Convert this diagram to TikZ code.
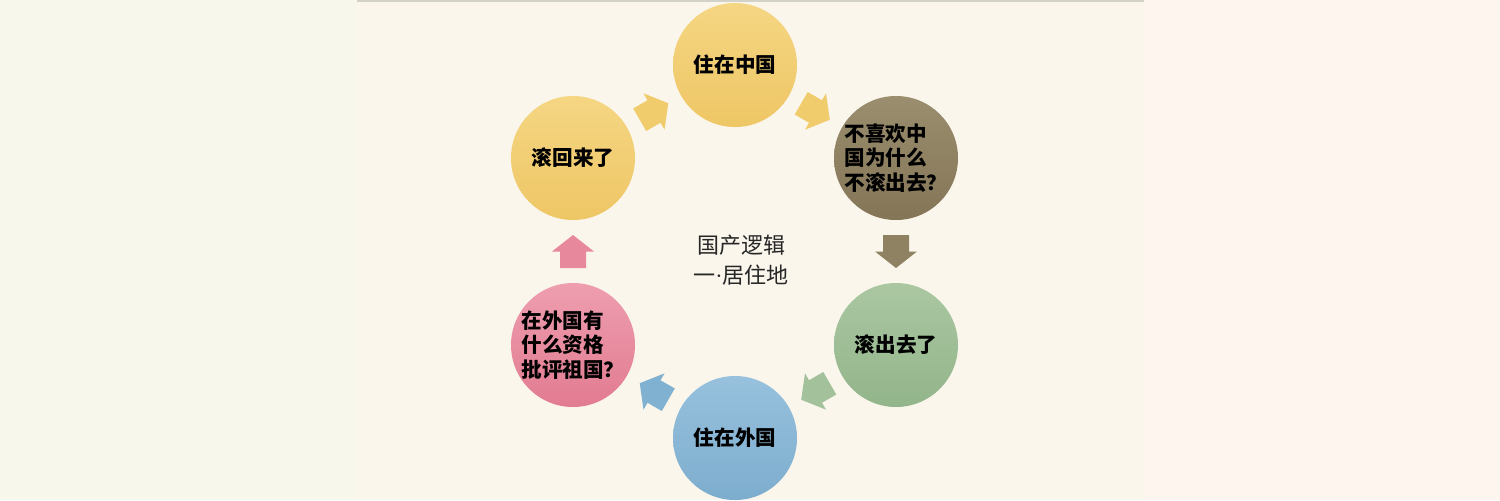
\documentclass[tikz,border=0pt]{standalone}
\usepackage{fontspec}
\setmainfont{Noto Sans CJK SC}
\newfontfamily\cjk{Noto Sans CJK SC}
\newfontfamily\latin{Liberation Serif}
\usetikzlibrary{calc}
\definecolor{bgleft}{HTML}{F7F7EB}
\definecolor{bgslide}{HTML}{FAF6EC}
\definecolor{bgright}{HTML}{FDF5EE}
\definecolor{topline}{HTML}{D3D2C8}
\definecolor{ytop}{HTML}{F5D683}
\definecolor{ybot}{HTML}{EEC665}
\definecolor{btop}{HTML}{9A8E6E}
\definecolor{bbot}{HTML}{847557}
\definecolor{gtop}{HTML}{AAC7A2}
\definecolor{gbot}{HTML}{93B58B}
\definecolor{ltop}{HTML}{97C1DD}
\definecolor{lbot}{HTML}{7DADCE}
\definecolor{ptop}{HTML}{EE9EB0}
\definecolor{pbot}{HTML}{E27B91}
\definecolor{yarr}{HTML}{F1CC6C}
\definecolor{barr}{HTML}{8E8262}
\definecolor{garr}{HTML}{A3C19B}
\definecolor{larr}{HTML}{80B1D1}
\definecolor{parr}{HTML}{E8889C}
\tikzset{
  ball/.style={circle, minimum size=62pt, inner sep=0pt,
    font=\cjk\bfseries\fontsize{10.3}{12.2}\selectfont, text=black, align=left},
  blockarrow/.pic={\fill[pic actions] (-16.5,-13)--(0,-13)--(0,-21)--(16.5,0)--(0,21)--(0,13)--(-16.5,13)--cycle;}
}
\begin{document}
\begin{tikzpicture}[x=0.5pt,y=-0.5pt]
\useasboundingbox (0,0) rectangle (1500,500);
\fill[bgleft] (0,0) rectangle (357,500);
\fill[bgslide] (357,0) rectangle (1144,500);
\fill[bgright] (1144,0) rectangle (1500,500);
\draw[topline, line width=1pt] (357,1) -- (1144,1);

\node[ball, top color=ytop, bottom color=ybot] (c1) at (735,65) {住在中国};
\node[ball, top color=btop, bottom color=bbot] (c2) at (896,158) {不喜欢中\\国为什么\\不滚出去？};
\node[ball, top color=gtop, bottom color=gbot] (c3) at (896,345) {滚出去了};
\node[ball, top color=ltop, bottom color=lbot] (c4) at (735,438) {住在外国};
\node[ball, top color=ptop, bottom color=pbot] (c5) at (573,345) {在外国有\\什么资格\\批评祖国？};
\node[ball, top color=ytop, bottom color=ybot] (c6) at (573,158) {滚回来了};

\pic[fill=yarr, rotate=30] at ($(c6)!0.5!(c1)$) {blockarrow};
\pic[fill=yarr, rotate=-30] at ($(c1)!0.5!(c2)$) {blockarrow};
\pic[fill=barr, rotate=-90] at ($(c2)!0.5!(c3)$) {blockarrow};
\pic[fill=garr, rotate=-150] at ($(c3)!0.5!(c4)$) {blockarrow};
\pic[fill=larr, rotate=150] at ($(c4)!0.5!(c5)$) {blockarrow};
\pic[fill=parr, rotate=90] at ($(c5)!0.5!(c6)$) {blockarrow};

\node[font=\cjk\fontsize{11}{15}\selectfont, align=center, text=black!85] (title) at (741,260) {国产逻辑\\一{\latin ·}居住地};
\end{tikzpicture}
\end{document}
